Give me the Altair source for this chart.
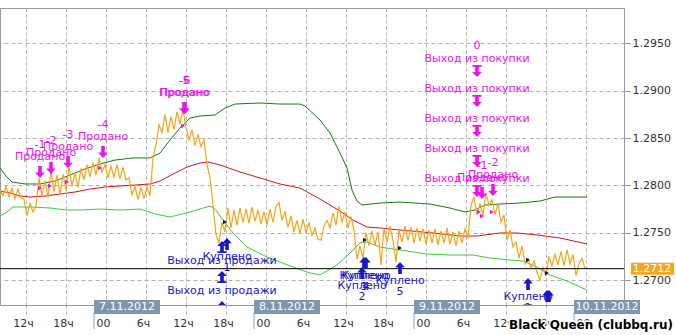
import altair as alt
import pandas as pd

# ---------------- data ----------------
# price series: one value every 0.45 h starting at hour 8.1 (hours counted from 6.11.2012 00:00)
price_start_hour = 8.1
price_step_hours = 0.45
price_values = [
    1.2795, 1.2789, 1.2799, 1.2788, 1.2797, 1.2786, 1.2796, 1.2787, 1.2785, 1.2768,
    1.2781, 1.2772, 1.2778, 1.2808, 1.2789, 1.2805, 1.2787, 1.2816, 1.2793, 1.2811,
    1.2790, 1.2812, 1.2795, 1.2820, 1.2799, 1.2813, 1.2798, 1.2818, 1.2806, 1.2822,
    1.2809, 1.2824, 1.2811, 1.2829, 1.2814, 1.2822, 1.2808, 1.2820, 1.2809, 1.2822,
    1.2807, 1.2819, 1.2806, 1.2808, 1.2790, 1.2799, 1.2785, 1.2798, 1.2786, 1.2799,
    1.2789, 1.2829, 1.2843, 1.2864, 1.2856, 1.2875, 1.2856, 1.2873, 1.2859, 1.2878,
    1.2865, 1.2880, 1.2861, 1.2848, 1.2859, 1.2842, 1.2854, 1.2841, 1.2848, 1.2822,
    1.2808, 1.2779, 1.2748, 1.2739, 1.2761, 1.2751, 1.2776, 1.2755, 1.2774, 1.2758,
    1.2776, 1.2761, 1.2775, 1.2760, 1.2777, 1.2762, 1.2774, 1.2759, 1.2772, 1.2758,
    1.2775, 1.2761, 1.2778, 1.2782, 1.2763, 1.2772, 1.2756, 1.2768, 1.2751, 1.2763,
    1.2749, 1.2764, 1.2750, 1.2761, 1.2747, 1.2755, 1.2743, 1.2742, 1.2757, 1.2763,
    1.2755, 1.2771, 1.2758, 1.2778, 1.2761, 1.2772, 1.2755, 1.2767, 1.2753, 1.2722,
    1.2736, 1.2723, 1.2750, 1.2736, 1.2752, 1.2737, 1.2751, 1.2716, 1.2755, 1.2740,
    1.2757, 1.2742, 1.2719, 1.2753, 1.2740, 1.2757, 1.2742, 1.2756, 1.2739, 1.2755,
    1.2741, 1.2754, 1.2738, 1.2753, 1.2739, 1.2754, 1.2737, 1.2752, 1.2739, 1.2755,
    1.2738, 1.2751, 1.2736, 1.2752, 1.2739, 1.2754, 1.2744, 1.2779, 1.2788, 1.2769,
    1.2781, 1.2768, 1.2792, 1.2779, 1.2785, 1.2769, 1.2781, 1.2761, 1.2769, 1.2742,
    1.2753, 1.2735, 1.2740, 1.2723, 1.2736, 1.2717, 1.2723, 1.2713, 1.2720, 1.2708,
    1.2700, 1.2713, 1.2704, 1.2725, 1.2715, 1.2727, 1.2716, 1.2730, 1.2715, 1.2732,
    1.2717, 1.2727, 1.2705, 1.2717, 1.2723, 1.2712,
]
last_price = 1.2712

upper_hours = [8.1, 9.0, 9.9, 11.85, 14.1, 16.35, 18.6, 20.85, 23.1, 25.35, 28.05, 30.6,
               32.1, 33.6, 35.1, 36.6, 38.1, 40.35, 41.85, 43.35, 47.1, 50.1, 53.1, 53.85,
               56.1, 57.6, 59.1, 60.15, 60.9, 61.65, 62.4, 65.1, 68.1, 72.6, 75.6, 77.85,
               79.35, 80.85, 83.1, 86.1, 89.1, 91.35, 96.15]
upper_values = [1.28184, 1.28099, 1.28036, 1.28015, 1.28015, 1.28046, 1.28110, 1.28173,
                1.28226, 1.28268, 1.28290, 1.28290, 1.28342, 1.28480, 1.28607, 1.28712,
                1.28733, 1.28744, 1.28818, 1.28860, 1.28871, 1.28860, 1.28860, 1.28839,
                1.28691, 1.28554, 1.28342, 1.28184, 1.27951, 1.27835, 1.27793, 1.27814,
                1.27824, 1.27803, 1.27761, 1.27719, 1.27740, 1.27793, 1.27803, 1.27814,
                1.27835, 1.27877, 1.27877]

middle_hours = [8.1, 9.6, 11.1, 12.6, 14.85, 17.1, 19.35, 21.6, 23.85, 26.1, 28.35, 30.6,
                32.1, 34.05, 36.15, 38.1, 39.3, 41.1, 44.1, 47.1, 50.1, 53.1, 56.1, 59.1,
                61.05, 63.15, 65.1, 68.1, 73.05, 77.1, 79.65, 83.1, 85.65, 88.65, 92.1, 96.15]
middle_values = [1.27941, 1.27920, 1.27888, 1.27877, 1.27888, 1.27909, 1.27930, 1.27962,
                 1.27983, 1.27994, 1.28004, 1.28015, 1.28046, 1.28120, 1.28194, 1.28237,
                 1.28247, 1.28216, 1.28142, 1.28078, 1.28015, 1.27972, 1.27856, 1.27729,
                 1.27634, 1.27560, 1.27550, 1.27529, 1.27497, 1.27465, 1.27465, 1.27497,
                 1.27497, 1.27476, 1.27444, 1.27381]

lower_hours = [8.1, 9.15, 10.05, 12.6, 15.6, 18.15, 20.1, 23.1, 26.1, 29.1, 31.35, 33.6,
               36.6, 39.6, 40.35, 41.55, 43.05, 45.15, 48.15, 52.05, 54.6, 56.1, 58.65,
               60.6, 62.1, 63.15, 65.1, 68.1, 72.15, 75.6, 79.05, 81.6, 84.6, 86.55, 88.65,
               90.6, 93.15, 96.15]
lower_values = [1.27676, 1.27719, 1.27772, 1.27772, 1.27761, 1.27740, 1.27740, 1.27750,
                1.27740, 1.27750, 1.27698, 1.27666, 1.27719, 1.27782, 1.27750, 1.27634,
                1.27497, 1.27349, 1.27243, 1.27137, 1.27074, 1.27053, 1.27159, 1.27285,
                1.27391, 1.27402, 1.27349, 1.27317, 1.27275, 1.27264, 1.27264, 1.27233,
                1.27211, 1.27201, 1.27137, 1.27053, 1.26989, 1.26894]

# sell signals ("Продано")
sell_hours = [14.1, 15.75, 18.3, 23.55, 35.7, 35.85, 80.4, 82.05]
sell_prices = [1.28142, 1.28184, 1.28247, 1.28353, 1.28818, 1.28818, 1.27920, 1.27951]
sell_numbers = ["-1", "-2", "-3", "-4", "-5", "-6", "-1", "-2"]
sell_entry_hours = [14.1, 15.6, 18.15, 23.1, 35.55, 79.95, 80.4, 81.9]
sell_entry_prices = [1.27972, 1.27994, 1.28036, 1.28184, 1.28628, 1.27719, 1.27676, 1.27719]

# exits from buys ("Выход из покупки")
exit_buy_hours = [79.65, 79.65, 79.65, 79.65, 79.65]
exit_buy_prices = [1.27941, 1.28258, 1.28575, 1.28892, 1.29209]
exit_buy_numbers = ["", "", "", "", "0"]

# buy signals ("Куплено")
buy_hours = [42.15, 63.0, 62.7, 62.4, 68.1, 87.3, 90.15, 90.45]
buy_prices = [1.27381, 1.27180, 1.27180, 1.27074, 1.27127, 1.26958, 1.26831, 1.26831]
buy_numbers = ["1", "4", "3", "2", "5", "1", "2", "3"]
buy_entry_hours = [41.85, 62.85, 68.1, 87.3, 90.15]
buy_entry_prices = [1.27613, 1.27423, 1.27338, 1.27211, 1.27074]

# exits from sells ("Выход из продажи")
exit_sell_hours = [41.4, 41.4, 41.4]
exit_sell_prices = [1.27349, 1.27032, 1.26715]

date_hours = [24, 48, 72, 96]
date_labels = ["7.11.2012", "8.11.2012", "9.11.2012", "10.11.2012"]
hour_ticks = list(range(12, 97, 6))
price_ticks = [1.2700, 1.2750, 1.2800, 1.2850, 1.2900, 1.2950]

# ---------------- build ----------------
price_df = pd.DataFrame({
    "h": [round(price_start_hour + i * price_step_hours, 3) for i in range(len(price_values))],
    "p": price_values,
})
bands_df = pd.concat([
    pd.DataFrame({"h": upper_hours, "p": upper_values, "band": "upper"}),
    pd.DataFrame({"h": middle_hours, "p": middle_values, "band": "middle"}),
    pd.DataFrame({"h": lower_hours, "p": lower_values, "band": "lower"}),
])
sell_df = pd.DataFrame({"h": sell_hours, "p": sell_prices, "n": sell_numbers})
sell_entry_df = pd.DataFrame({"h": sell_entry_hours, "p": sell_entry_prices})
exit_buy_df = pd.DataFrame({"h": exit_buy_hours, "p": exit_buy_prices, "n": exit_buy_numbers})
buy_df = pd.DataFrame({"h": buy_hours, "p": buy_prices, "n": buy_numbers})
buy_entry_df = pd.DataFrame({"h": buy_entry_hours, "p": buy_entry_prices})
exit_sell_df = pd.DataFrame({"h": exit_sell_hours, "p": exit_sell_prices})
dates_df = pd.DataFrame({"h": date_hours, "label": date_labels})
last_df = pd.DataFrame({"p": [last_price], "label": [f"{last_price:.4f}"]})

FONT = "DejaVu Sans"
MAG = "#ee11ee"
BLUE = "#1717c6"
GRID = "#b0b0b0"

xscale = alt.Scale(domain=[8.1, 101.7], nice=False, zero=False)
yscale = alt.Scale(domain=[1.26736, 1.29875], nice=False, zero=False)
xaxis = alt.Axis(
    values=hour_ticks, title=None, grid=True, gridDash=[3, 3], gridColor=GRID,
    tickSize=12, tickDash=[3, 3], tickColor=GRID, domainColor="#999999",
    labelFont=FONT, labelFontSize=11, labelColor="#333333", labelPadding=0,
    labelOffset=-3,
    labelExpr="datum.value % 24 == 0 ? '00' : (datum.value % 24) + 'ч'",
)
yaxis = alt.Axis(
    values=price_ticks, format=".4f", orient="right", title=None, grid=True,
    gridDash=[4, 3], gridColor=GRID, tickSize=6, tickColor="#999999", domain=False,
    labelFont=FONT, labelFontSize=11, labelColor="#333333", labelPadding=2,
)


def X(field="h"):
    return alt.X(field, type="quantitative", scale=xscale, axis=xaxis)


def Y(field="p"):
    return alt.Y(field, type="quantitative", scale=yscale, axis=yaxis)


DOWN = "M-0.3,-1L0.3,-1L0.3,0.1L0.8,0.1L0,1L-0.8,0.1L-0.3,0.1Z"
UP = "M-0.3,1L0.3,1L0.3,-0.1L0.8,-0.1L0,-1L-0.8,-0.1L-0.3,-0.1Z"
DOWN_EXIT = ("M-0.75,-1L0.75,-1L0.75,-0.72L0.3,-0.72L0.3,0.15L0.8,0.15L0,1L-0.8,0.15"
             "L-0.3,0.15L-0.3,-0.72L-0.75,-0.72Z")
UP_EXIT = ("M-0.75,1L0.75,1L0.75,0.72L0.3,0.72L0.3,-0.15L0.8,-0.15L0,-1L-0.8,-0.15"
           "L-0.3,-0.15L-0.3,0.72L-0.75,0.72Z")

bands = alt.Chart(bands_df).mark_line(strokeWidth=1, clip=True).encode(
    x=X(), y=Y(), detail="band:N",
    color=alt.Color("band:N", legend=None, scale=alt.Scale(
        domain=["upper", "middle", "lower"], range=["#187818", "#d01818", "#3ccc3c"])),
)
price = alt.Chart(price_df).mark_line(color="#f7a418", strokeWidth=1.2, clip=True).encode(
    x=X(), y=Y())
last_rule = alt.Chart(last_df).mark_rule(color="#000000", strokeWidth=1).encode(y=Y())

sell_entry = alt.Chart(sell_entry_df).mark_point(
    shape="triangle-right", size=22, filled=True, color=MAG, opacity=1, clip=True
).encode(x=X(), y=Y())
buy_entry = alt.Chart(buy_entry_df).mark_point(
    shape="triangle-right", size=22, filled=True, color="#10107a", opacity=1, clip=True
).encode(x=X(), y=Y())


def arrows(df, shape, color):
    return alt.Chart(df).mark_point(
        shape=shape, size=144, filled=True, color=color, opacity=1, strokeWidth=0, clip=True
    ).encode(x=X(), y=Y())


def label(df, text, color, dy):
    return alt.Chart(df).mark_text(
        text=text, font=FONT, fontSize=11, color=color, dy=dy, clip=True
    ).encode(x=X(), y=Y())


def number(df, color, dy):
    return alt.Chart(df).mark_text(
        font=FONT, fontSize=11, color=color, dy=dy, clip=True
    ).encode(x=X(), y=Y(), text="n:N")


layers = [
    bands, price, last_rule, sell_entry, buy_entry,
    label(sell_df, "Продано", MAG, -15), number(sell_df, MAG, -27), arrows(sell_df, DOWN, MAG),
    label(exit_buy_df, "Выход из покупки", MAG, -12), number(exit_buy_df, MAG, -25),
    arrows(exit_buy_df, DOWN_EXIT, MAG),
    label(buy_df, "Куплено", BLUE, 13), number(buy_df, BLUE, 24), arrows(buy_df, UP, BLUE),
    label(exit_sell_df, "Выход из продажи", BLUE, 14), arrows(exit_sell_df, UP_EXIT, BLUE),
]

date_sep = alt.Chart(dates_df).mark_rule(color="#8a9db2", xOffset=-12, strokeWidth=1).encode(
    x=X(), y=alt.value(305), y2=alt.value(321))
date_boxes = alt.Chart(dates_df).mark_rect(
    color="#7f97ae", xOffset=-12, x2Offset=54
).encode(x=X(), x2="h", y=alt.value(292), y2=alt.value(306))
date_text = alt.Chart(dates_df).mark_text(
    font=FONT, fontSize=11, color="#ffffff", dx=21, baseline="middle"
).encode(x=X(), y=alt.value(299), text="label:N")

last_box = alt.Chart(last_df).mark_rect(color="#f5a51f", yOffset=-6, y2Offset=6).encode(
    x=alt.value(631), x2=alt.value(674), y=Y(), y2="p")
last_text = alt.Chart(last_df).mark_text(
    font=FONT, fontSize=11, color="#ffffff", baseline="middle"
).encode(x=alt.value(652), y=Y(), text="label:N")

wm_data = pd.DataFrame({"t": ["Black Queen (clubbq.ru)"]})
wm_halo = alt.Chart(wm_data).mark_text(
    font=FONT, fontSize=12, fontWeight="bold", color="#ffffff", stroke="#ffffff",
    strokeWidth=3, strokeJoin="round", baseline="middle"
).encode(x=alt.value(591), y=alt.value(317), text="t:N")
wm_text = alt.Chart(wm_data).mark_text(
    font=FONT, fontSize=12, fontWeight="bold", color="#000000", baseline="middle"
).encode(x=alt.value(591), y=alt.value(317), text="t:N")

chart = alt.layer(
    *layers, date_sep, date_boxes, date_text, last_box, last_text, wm_halo, wm_text
).properties(
    width=624, height=297,
    autosize=alt.AutoSizeParams(type="none"),
    padding={"left": 0, "top": 8, "right": 52, "bottom": 30},
    background="#ffffff",
).configure_view(stroke="#999999", strokeWidth=1)

chart.save("out.html", embed_options={"renderer": "svg", "actions": False})
